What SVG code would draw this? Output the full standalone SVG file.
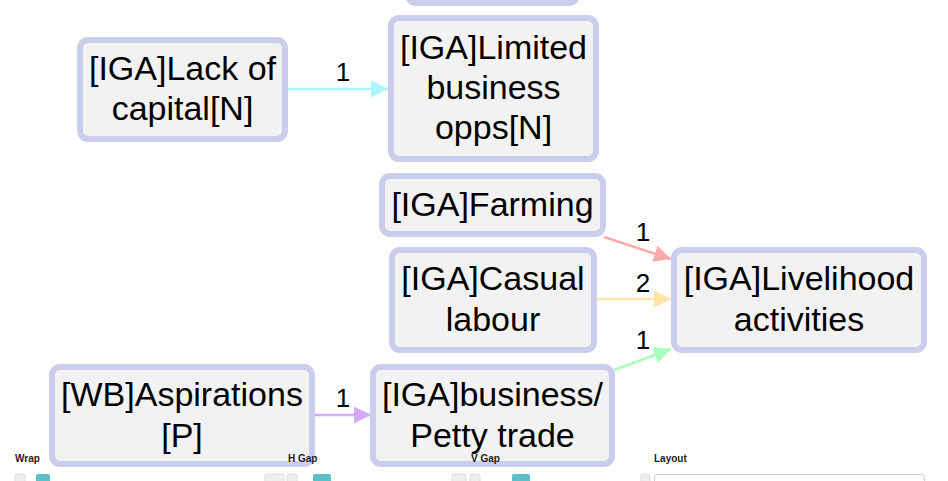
<svg xmlns="http://www.w3.org/2000/svg" width="948" height="481" viewBox="0 0 948 481">
<style>
.node rect{fill:#f2f2f2;stroke:#cccced;stroke-width:6}
.node text{font-family:"Liberation Sans",Arial,sans-serif;font-size:34px;fill:#000;text-anchor:middle}
.edge{fill:none;stroke-width:2.5}
.lbl{font-family:"Liberation Sans",Arial,sans-serif;font-size:26px;fill:#000;text-anchor:middle}
.ui{font-family:"Liberation Sans",Arial,sans-serif;font-size:10px;font-weight:bold;fill:#222}
.badge{fill:#eeeeee;stroke:#dddddd;stroke-width:1}
.tbadge{fill:#5bc0c7}
</style>
<defs>
<marker id="aC" viewBox="0 0 10 10" refX="10" refY="5" markerWidth="17" markerHeight="17" orient="auto" markerUnits="userSpaceOnUse"><path d="M0,0 L10,5 L0,10 z" fill="#aaf8ff"/></marker>
<marker id="aR" viewBox="0 0 10 10" refX="10" refY="5" markerWidth="17" markerHeight="17" orient="auto" markerUnits="userSpaceOnUse"><path d="M0,0 L10,5 L0,10 z" fill="#ffaaaa"/></marker>
<marker id="aY" viewBox="0 0 10 10" refX="10" refY="5" markerWidth="17" markerHeight="17" orient="auto" markerUnits="userSpaceOnUse"><path d="M0,0 L10,5 L0,10 z" fill="#ffe6a6"/></marker>
<marker id="aG" viewBox="0 0 10 10" refX="10" refY="5" markerWidth="17" markerHeight="17" orient="auto" markerUnits="userSpaceOnUse"><path d="M0,0 L10,5 L0,10 z" fill="#aaffbb"/></marker>
<marker id="aP" viewBox="0 0 10 10" refX="10" refY="5" markerWidth="17" markerHeight="17" orient="auto" markerUnits="userSpaceOnUse"><path d="M0,0 L10,5 L0,10 z" fill="#d4aaff"/></marker>
</defs>
<rect width="948" height="481" fill="#ffffff"/>
<g id="connectors">
<path class="edge" d="M288,89 L388,89" stroke="#aaf8ff" style="marker-end:url(#aC)"/>
<path class="edge" d="M604,237 L671,259" stroke="#ffaaaa" style="marker-end:url(#aR)"/>
<path class="edge" d="M597,299 L671,299" stroke="#ffe6a6" style="marker-end:url(#aY)"/>
<path class="edge" d="M614,370 L671,349" stroke="#aaffbb" style="marker-end:url(#aG)"/>
<path class="edge" d="M314,415 L371,415" stroke="#d4aaff" style="marker-end:url(#aP)"/>
<text class="lbl" x="343" y="81">1</text>
<text class="lbl" x="643" y="241">1</text>
<text class="lbl" x="643" y="292">2</text>
<text class="lbl" x="643" y="349">1</text>
<text class="lbl" x="343" y="407">1</text>
</g>
<g id="node-top" class="node"><rect x="408" y="-60" width="169" height="63" rx="8"/></g>
<g id="node-lack" class="node"><rect x="80" y="40" width="205" height="99" rx="8"/><text x="182.5" y="80">[IGA]Lack of</text><text x="182.5" y="120">capital[N]</text></g>
<g id="node-limited" class="node"><rect x="391" y="18" width="205" height="141" rx="8"/><text x="493.5" y="59">[IGA]Limited</text><text x="493.5" y="99">business</text><text x="493.5" y="139">opps[N]</text></g>
<g id="node-farming" class="node"><rect x="382" y="176" width="221" height="58" rx="8"/><text x="492.5" y="216">[IGA]Farming</text></g>
<g id="node-casual" class="node"><rect x="392" y="250" width="202" height="100" rx="8"/><text x="493" y="290">[IGA]Casual</text><text x="493" y="331">labour</text></g>
<g id="node-livelihood" class="node"><rect x="674" y="250" width="250" height="100" rx="8"/><text x="799" y="290">[IGA]Livelihood</text><text x="799" y="331">activities</text></g>
<g id="node-aspirations" class="node"><rect x="52" y="367" width="260" height="97" rx="8"/><text x="182" y="406">[WB]Aspirations</text><text x="182" y="447">[P]</text></g>
<g id="node-business" class="node"><rect x="373" y="367" width="239" height="97" rx="8"/><text x="492.5" y="406">[IGA]business/</text><text x="492.5" y="447">Petty trade</text></g>
<g id="panel">
<text class="ui" x="15" y="462">Wrap</text>
<text class="ui" x="288" y="462">H Gap</text>
<text class="ui" x="471" y="462">V Gap</text>
<text class="ui" x="654" y="462">Layout</text>
<rect class="badge" x="15" y="474" width="10" height="12" rx="2"/>
<rect class="tbadge" x="36" y="474" width="14" height="12" rx="2"/>
<rect class="badge" x="265" y="474" width="19" height="12" rx="2"/>
<rect class="badge" x="287" y="474" width="10" height="12" rx="2"/>
<rect class="tbadge" x="313" y="474" width="18" height="12" rx="2"/>
<rect class="badge" x="452" y="474" width="14" height="12" rx="2"/>
<rect class="badge" x="470" y="474" width="10" height="12" rx="2"/>
<rect class="tbadge" x="512" y="474" width="18" height="12" rx="2"/>
<rect class="badge" x="641" y="474" width="9" height="12" rx="2"/>
<rect x="654.5" y="474.5" width="270" height="14" rx="3" fill="#ffffff" stroke="#cccccc"/>
</g>
</svg>
